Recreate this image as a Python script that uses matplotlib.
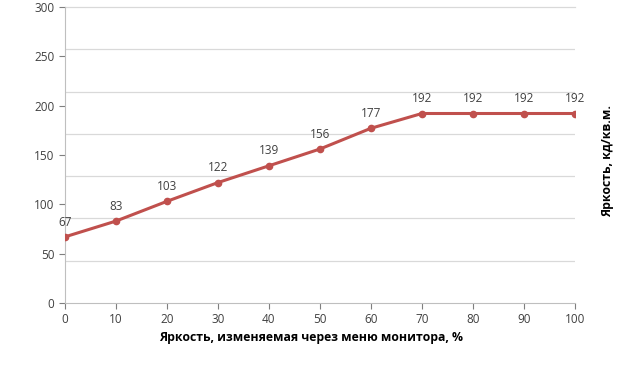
import numpy as np
import matplotlib
matplotlib.use('Agg')
import matplotlib.pyplot as plt

plt.rcParams['font.family'] = ['Open Sans', 'DejaVu Sans']

menu_brightness = [0, 10, 20, 30, 40, 50, 60, 70, 80, 90, 100]
luminance = [67, 83, 103, 122, 139, 156, 177, 192, 192, 192, 192]
y_ticks = [0, 50, 100, 150, 200, 250, 300]
x_ticks = [0, 10, 20, 30, 40, 50, 60, 70, 80, 90, 100]

fig = plt.figure(figsize=(6.4, 3.65), dpi=100)
ax = fig.add_axes([0.1016, 0.170, 0.7965, 0.811])

# grid lines in the source sit at 7 equal steps, not on the labelled ticks
ax.set_yticks(np.linspace(0, 300, 8), minor=True)
ax.grid(True, which='minor', axis='y', color='#d9d9d9', linewidth=0.9)
ax.tick_params(axis='y', which='minor', length=0)
ax.axhline(300, color='#d9d9d9', linewidth=0.9, clip_on=False, zorder=0)

ax.plot(menu_brightness, luminance, color='#c0504d', linewidth=2.2,
        marker='o', markersize=4.5, zorder=3)
for x, y in zip(menu_brightness, luminance):
    ax.annotate(str(y), (x, y), xytext=(0, 6), textcoords='offset points',
                ha='center', va='bottom', fontsize=8.5, color='#404040')

ax.set_xlim(0, 100)
ax.set_ylim(0, 300)
ax.set_xticks(x_ticks)
ax.set_yticks(y_ticks)
ax.tick_params(axis='both', which='major', labelsize=8.5, colors='#7f7f7f',
               labelcolor='#404040', length=4, width=0.8)
for side in ['top', 'right']:
    ax.spines[side].set_visible(False)
for side in ['left', 'bottom']:
    ax.spines[side].set_color('#bfbfbf')

fig.text(0.486, 0.074, 'Яркость, изменяемая через меню монитора, %', ha='center',
         va='center', fontsize=8.8, fontweight='bold')
fig.text(0.950, 0.559, 'Яркость, кд/кв.м.', rotation=90, ha='center', va='center',
         fontsize=8.8, fontweight='bold')

fig.savefig('out.png', dpi=100)
